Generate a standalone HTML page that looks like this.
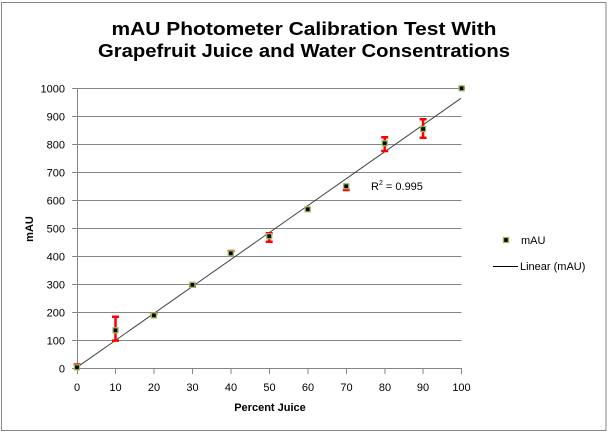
<!DOCTYPE html>
<html><head><meta charset="utf-8"><style>
html,body{margin:0;padding:0;background:#fff;}
svg{display:block;}
text{font-family:"Liberation Sans",Arial,sans-serif;fill:#000;}
</style></head><body>
<svg width="608" height="432" viewBox="0 0 608 432" xmlns="http://www.w3.org/2000/svg">
<rect x="0" y="0" width="608" height="432" fill="#fff"/>
<rect x="1.5" y="2.5" width="604.5" height="428" fill="none" stroke="#868686" stroke-width="1"/>
<!-- title -->
<text x="304" y="35" font-size="18" font-weight="bold" text-anchor="middle" textLength="385" lengthAdjust="spacingAndGlyphs">mAU Photometer Calibration Test With</text>
<text x="304" y="57" font-size="18" font-weight="bold" text-anchor="middle" textLength="412" lengthAdjust="spacingAndGlyphs">Grapefruit Juice and Water Consentrations</text>
<!-- gridlines -->
<g stroke="#868686" stroke-width="1">
<line x1="77" y1="88.5" x2="461.5" y2="88.5"/>
<line x1="77" y1="116.5" x2="461.5" y2="116.5"/>
<line x1="77" y1="144.5" x2="461.5" y2="144.5"/>
<line x1="77" y1="172.5" x2="461.5" y2="172.5"/>
<line x1="77" y1="200.5" x2="461.5" y2="200.5"/>
<line x1="77" y1="228.5" x2="461.5" y2="228.5"/>
<line x1="77" y1="256.5" x2="461.5" y2="256.5"/>
<line x1="77" y1="284.5" x2="461.5" y2="284.5"/>
<line x1="77" y1="312.5" x2="461.5" y2="312.5"/>
<line x1="77" y1="340.5" x2="461.5" y2="340.5"/>
<line x1="72" y1="368.5" x2="461.5" y2="368.5"/>
<line x1="77.5" y1="88" x2="77.5" y2="374"/>
<!-- y ticks -->
<line x1="72" y1="88.5" x2="77" y2="88.5"/>
<line x1="72" y1="116.5" x2="77" y2="116.5"/>
<line x1="72" y1="144.5" x2="77" y2="144.5"/>
<line x1="72" y1="172.5" x2="77" y2="172.5"/>
<line x1="72" y1="200.5" x2="77" y2="200.5"/>
<line x1="72" y1="228.5" x2="77" y2="228.5"/>
<line x1="72" y1="256.5" x2="77" y2="256.5"/>
<line x1="72" y1="284.5" x2="77" y2="284.5"/>
<line x1="72" y1="312.5" x2="77" y2="312.5"/>
<line x1="72" y1="340.5" x2="77" y2="340.5"/>
<!-- x ticks -->
<line x1="115.5" y1="368" x2="115.5" y2="374"/>
<line x1="154" y1="368" x2="154" y2="374"/>
<line x1="192.5" y1="368" x2="192.5" y2="374"/>
<line x1="231" y1="368" x2="231" y2="374"/>
<line x1="269.5" y1="368" x2="269.5" y2="374"/>
<line x1="308" y1="368" x2="308" y2="374"/>
<line x1="346.5" y1="368" x2="346.5" y2="374"/>
<line x1="385" y1="368" x2="385" y2="374"/>
<line x1="423" y1="368" x2="423" y2="374"/>
<line x1="461.5" y1="368" x2="461.5" y2="374"/>
</g>
<!-- y labels -->
<g font-size="11" text-anchor="end">
<text x="65" y="92.5">1000</text>
<text x="65" y="120.5">900</text>
<text x="65" y="148.5">800</text>
<text x="65" y="176.5">700</text>
<text x="65" y="204.5">600</text>
<text x="65" y="232.5">500</text>
<text x="65" y="260.5">400</text>
<text x="65" y="288.5">300</text>
<text x="65" y="316.5">200</text>
<text x="65" y="344.5">100</text>
<text x="65" y="372.5">0</text>
</g>
<!-- x labels -->
<g font-size="11" text-anchor="middle">
<text x="77" y="391">0</text>
<text x="115.5" y="391">10</text>
<text x="154" y="391">20</text>
<text x="192.5" y="391">30</text>
<text x="231" y="391">40</text>
<text x="269.5" y="391">50</text>
<text x="308" y="391">60</text>
<text x="346.5" y="391">70</text>
<text x="385" y="391">80</text>
<text x="423" y="391">90</text>
<text x="461.5" y="391">100</text>
</g>
<text x="270" y="411" font-size="11" font-weight="bold" text-anchor="middle">Percent Juice</text>
<text transform="translate(33,229) rotate(-90)" font-size="11" font-weight="bold" text-anchor="middle">mAU</text>
<!-- trend line -->
<line x1="77" y1="367.3" x2="461" y2="98.3" stroke="#404040" stroke-width="1"/>
<!-- error bars -->
<g stroke="#ff0000" stroke-width="2.5" fill="none">
<path d="M77,363.5V367.3M73.5,364.5H80.5"/>
<path d="M115.5,316.8V340.6M112,316.8H119M112,340.6H119"/>
<path d="M154,313.5V317M150.5,313.5H157.5"/>
<path d="M192.5,283.5V286.5M189,286.5H196"/>
<path d="M231,251V255M227.5,251H234.5"/>
<path d="M269.2,233.3V241.7M265.7,233.3H272.7M265.7,241.7H272.7"/>
<path d="M305,208H308"/>
<path d="M346.2,184V190M342.7,190H349.7"/>
<path d="M384.7,137.3V151M381.2,137.3H388.2M381.2,151H388.2"/>
<path d="M423.1,119.3V137.7M419.6,119.3H426.6M419.6,137.7H426.6"/>
<path d="M461.6,88.3H465"/>
</g>
<!-- markers -->
<g fill="#000" stroke="#9bbb59" stroke-width="1.3">
<rect x="74.5" y="364.8" width="5" height="5"/>
<rect x="113" y="327.8" width="5" height="5"/>
<rect x="151.4" y="312.9" width="5" height="5"/>
<rect x="189.9" y="282.3" width="5" height="5"/>
<rect x="228.3" y="250.8" width="5" height="5"/>
<rect x="266.7" y="233.7" width="5" height="5"/>
<rect x="305.2" y="206.8" width="5" height="5"/>
<rect x="343.7" y="183.8" width="5" height="5"/>
<rect x="382.2" y="140.8" width="5" height="5"/>
<rect x="420.6" y="126.5" width="5" height="5"/>
<rect x="459.1" y="85.8" width="5" height="5"/>
</g>
<!-- R2 -->
<text x="371" y="190" font-size="11">R<tspan font-size="7" dy="-5">2</tspan><tspan dy="5"> = 0.995</tspan></text>
<!-- legend -->
<rect x="503.5" y="237.5" width="5" height="5" fill="#000" stroke="#9bbb59" stroke-width="1.3"/>
<text x="521" y="244" font-size="11">mAU</text>
<line x1="493" y1="266.5" x2="518" y2="266.5" stroke="#000" stroke-width="1"/>
<text x="520" y="270" font-size="11">Linear (mAU)</text>
</svg>
</body></html>
